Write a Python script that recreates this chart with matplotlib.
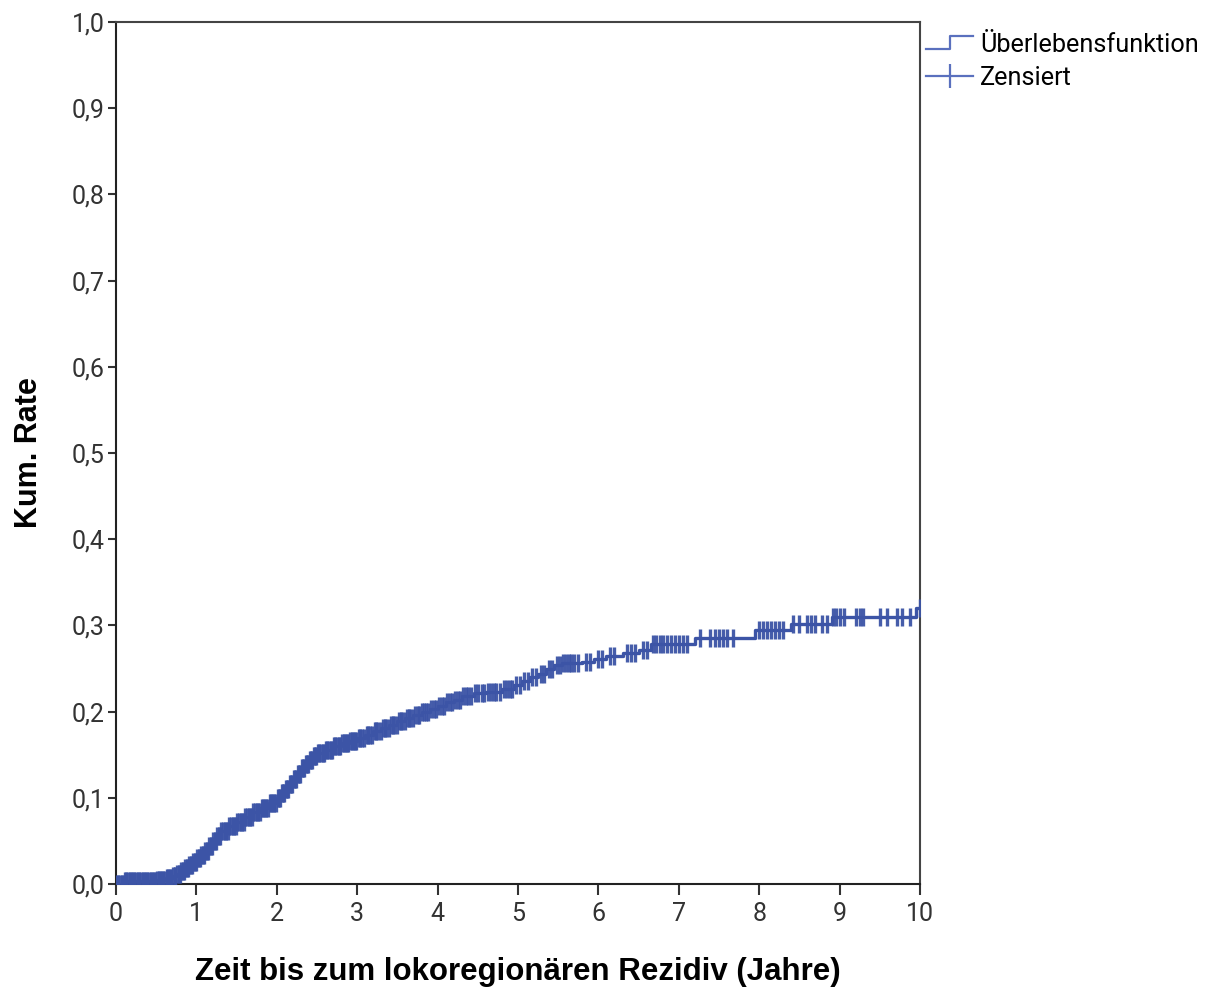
import numpy as np
import matplotlib
matplotlib.use("Agg")
import matplotlib.pyplot as plt
from matplotlib.lines import Line2D
from matplotlib.legend_handler import HandlerBase
from matplotlib.ticker import FuncFormatter

# ---- data ----
step_times = [0.0, 0.1, 0.3, 0.5, 0.62, 0.7, 0.75, 0.8, 0.85, 0.9, 0.95, 1.0, 1.05, 1.1,
              1.15, 1.2, 1.25, 1.3, 1.4, 1.5, 1.6, 1.7, 1.8, 1.9, 2.0, 2.05, 2.1, 2.15,
              2.2, 2.25, 2.3, 2.35, 2.4, 2.45, 2.5, 2.6, 2.7, 2.8, 2.9, 3.0, 3.1, 3.2,
              3.3, 3.4, 3.5, 3.6, 3.7, 3.8, 3.9, 4.0, 4.1, 4.2, 4.3, 4.45, 4.6, 4.8,
              4.95, 5.05, 5.15, 5.25, 5.35, 5.45, 5.55, 5.8, 5.95, 6.1, 6.3, 6.5, 6.65,
              7.2, 7.95, 8.4, 8.9, 9.95]
cum_rate = [0.0, 0.003, 0.004, 0.005, 0.007, 0.009, 0.012, 0.015, 0.019, 0.022, 0.026,
            0.030, 0.034, 0.038, 0.044, 0.050, 0.056, 0.062, 0.067, 0.072, 0.078, 0.083,
            0.088, 0.094, 0.100, 0.105, 0.110, 0.116, 0.122, 0.128, 0.134, 0.139, 0.144,
            0.148, 0.152, 0.156, 0.160, 0.163, 0.166, 0.169, 0.173, 0.177, 0.181, 0.185,
            0.189, 0.193, 0.196, 0.199, 0.203, 0.207, 0.211, 0.214, 0.218, 0.221, 0.223,
            0.226, 0.231, 0.236, 0.240, 0.244, 0.249, 0.254, 0.256, 0.258, 0.261, 0.264,
            0.268, 0.272, 0.278, 0.285, 0.295, 0.302, 0.310, 0.320]
end_time = 10.0

censor_times = [0.01, 0.03, 0.05, 0.07, 0.09, 0.11, 0.13, 0.15, 0.17, 0.19, 0.21, 0.23,
                0.25, 0.27, 0.29, 0.31, 0.33, 0.35, 0.37, 0.39, 0.41, 0.43, 0.45, 0.47,
                0.49, 0.51, 0.53, 0.55, 0.57, 0.59, 0.61, 0.63, 0.65, 0.67, 0.69, 0.71,
                0.73, 0.74, 0.76, 0.78, 0.79, 0.81, 0.83, 0.84, 0.86, 0.88, 0.89, 0.91,
                0.93, 0.94, 0.96, 0.98, 0.99, 1.01, 1.03, 1.04, 1.06, 1.08, 1.09, 1.11,
                1.13, 1.14, 1.16, 1.18, 1.19, 1.21, 1.23, 1.24, 1.26, 1.28, 1.29, 1.31,
                1.33, 1.35, 1.37, 1.39, 1.41, 1.43, 1.45, 1.47, 1.49, 1.51, 1.53, 1.55,
                1.57, 1.59, 1.61, 1.63, 1.65, 1.67, 1.69, 1.71, 1.73, 1.75, 1.77, 1.79,
                1.81, 1.83, 1.85, 1.87, 1.89, 1.91, 1.93, 1.95, 1.97, 1.99, 2.01, 2.03,
                2.04, 2.06, 2.08, 2.09, 2.11, 2.13, 2.14, 2.16, 2.18, 2.19, 2.21, 2.23,
                2.24, 2.26, 2.28, 2.29, 2.31, 2.33, 2.34, 2.36, 2.38, 2.39, 2.41, 2.43,
                2.44, 2.46, 2.48, 2.49, 2.51, 2.53, 2.55, 2.57, 2.59, 2.61, 2.63, 2.65,
                2.67, 2.69, 2.71, 2.73, 2.75, 2.77, 2.79, 2.81, 2.83, 2.85, 2.87, 2.89,
                2.91, 2.93, 2.95, 2.97, 2.99, 3.02, 3.04, 3.06, 3.09, 3.12, 3.14, 3.16,
                3.19, 3.22, 3.24, 3.26, 3.29, 3.32, 3.34, 3.36, 3.39, 3.42, 3.44, 3.46,
                3.49, 3.52, 3.54, 3.56, 3.59, 3.62, 3.64, 3.66, 3.69, 3.72, 3.75, 3.77,
                3.8, 3.83, 3.86, 3.88, 3.92, 3.95, 3.98, 4.02, 4.05, 4.08, 4.12, 4.15,
                4.18, 4.22, 4.25, 4.28, 4.32, 4.35, 4.38, 4.42, 4.47, 4.5, 4.55, 4.58,
                4.63, 4.66, 4.7, 4.73, 4.77, 4.83, 4.86, 4.9, 4.93, 4.98, 5.02, 5.08,
                5.12, 5.18, 5.22, 5.28, 5.32, 5.38, 5.42, 5.48, 5.52, 5.56, 5.6, 5.63,
                5.66, 5.7, 5.75, 5.85, 5.9, 6.0, 6.05, 6.15, 6.2, 6.35, 6.4, 6.45,
                6.55, 6.6, 6.68, 6.72, 6.76, 6.8, 6.85, 6.9, 6.95, 7.0, 7.05, 7.1,
                7.26, 7.39, 7.45, 7.5, 7.55, 7.6, 7.67, 8.0, 8.05, 8.1, 8.15, 8.2,
                8.25, 8.3, 8.42, 8.5, 8.6, 8.65, 8.7, 8.78, 8.84, 8.92, 8.96, 9.0,
                9.05, 9.2, 9.25, 9.29, 9.5, 9.59, 9.71, 9.78, 9.88, 10.0]

# ---- style ----
blue = "#3C54A6"
legend_blue = "#5A70BE"
plt.rcParams['font.family'] = ['Liberation Sans', 'DejaVu Sans']

fig = plt.figure(figsize=(12.09, 9.9), dpi=100)
ax = fig.add_axes([116 / 1209, 1 - 884 / 990, (920 - 116) / 1209, (884 - 22) / 990])

# survival step function (cumulative)
xs = list(step_times) + [end_time]
ys = list(cum_rate) + [cum_rate[-1]]
ax.step(xs, ys, where='post', color=blue, lw=2.4, zorder=3)

# censoring marks on the step curve
idx = np.searchsorted(np.array(step_times), np.array(censor_times), side='right') - 1
cy = np.array(cum_rate)[idx]
ax.plot(censor_times, cy, linestyle='none', marker='|', markersize=12.5,
        markeredgewidth=2.4, color=blue, zorder=4, alpha=0.95)

ax.set_xlim(0, 10)
ax.set_ylim(0, 1.0)
ax.set_xticks(range(0, 11))
ax.set_yticks(np.arange(0, 1.01, 0.1))
ax.yaxis.set_major_formatter(FuncFormatter(lambda v, p: f"{v:.1f}".replace('.', ',')))
ax.tick_params(axis='both', which='major', labelsize=18, colors='#333333',
               labelcolor='#333333', width=1.5)
for lab in ax.get_xticklabels() + ax.get_yticklabels():
    lab.set_family(['Roboto', 'DejaVu Sans'])
ax.tick_params(axis='x', length=8, pad=5)
ax.tick_params(axis='y', length=6, pad=2)
for s in ax.spines.values():
    s.set_linewidth(1.5)
    s.set_color('#222222')
ax.spines['top'].set_color('#444444')
ax.spines['right'].set_color('#444444')

ax.set_xlabel("Zeit bis zum lokoregionären Rezidiv (Jahre)", fontsize=22.5,
              fontweight='bold', labelpad=22)
ax.set_ylabel("Kum. Rate", fontsize=22, fontweight='bold', labelpad=20)


class StepHandler(HandlerBase):
    def create_artists(self, legend, orig_handle, xdescent, ydescent, width, height,
                       fontsize, trans):
        x0 = -xdescent
        yl = -ydescent + height * 0.2
        yh = -ydescent + height * 0.95
        xm = x0 + width * 0.5
        line = Line2D([x0, xm, xm, x0 + width], [yl, yl, yh, yh],
                      color=orig_handle.get_color(), lw=1.6, transform=trans)
        return [line]


h_surv = Line2D([], [], color=legend_blue, lw=1.6)
h_cens = Line2D([], [], color=legend_blue, lw=1.6, marker='|', markersize=17,
                markeredgewidth=1.6)
leg = ax.legend([h_surv, h_cens], ["Überlebensfunktion", "Zensiert"],
                handler_map={h_surv: StepHandler()},
                loc='upper left', bbox_to_anchor=(1.0, 0.994), frameon=False,
                prop={'family': ['Roboto', 'DejaVu Sans'], 'size': 18.2},
                handlelength=1.85, handletextpad=0.28,
                borderaxespad=0.0, borderpad=0.25, labelspacing=0.33)

fig.savefig("out.png", dpi=100)
